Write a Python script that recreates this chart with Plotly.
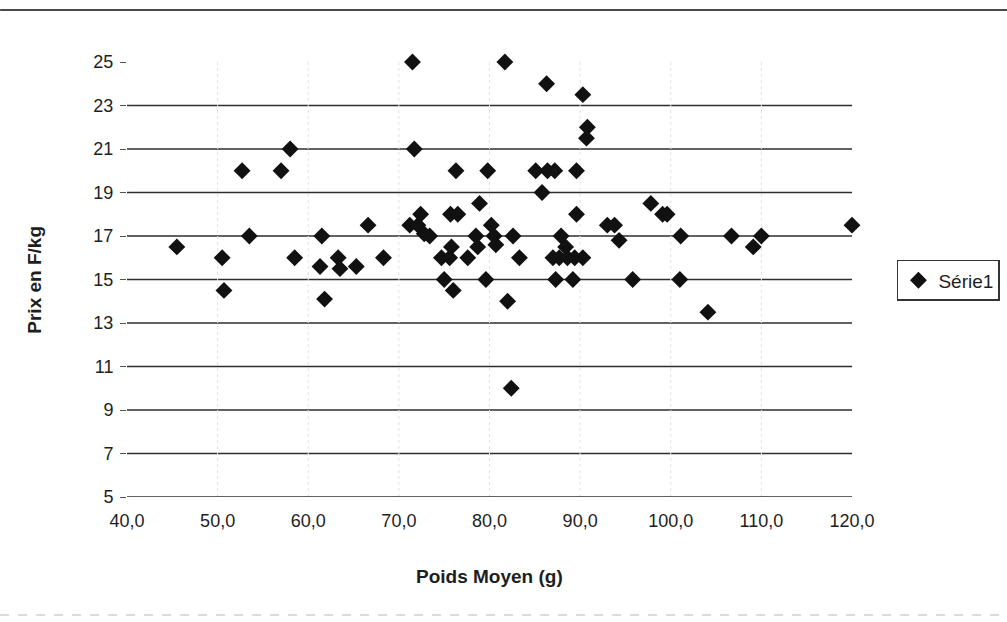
import plotly.graph_objects as go

# Poids moyen (g) et prix (F/kg) relevés
poids = [45.5, 50.5, 50.7, 52.7, 53.5, 57.0, 58.0, 58.5, 61.5, 61.3, 61.8, 63.3, 63.5,
         65.3, 66.6, 68.3, 71.5, 71.7, 71.2, 72.1, 72.4, 72.8, 73.4, 74.7, 75.6, 75.8,
         75.7, 76.5, 76.3, 77.6, 75.0, 76.0, 78.5, 78.7, 78.9, 79.8, 79.6, 80.2, 80.5,
         80.7, 81.7, 82.6, 83.3, 82.0, 82.4, 85.1, 86.4, 87.2, 85.8, 86.3, 87.9, 88.4,
         87.0, 87.7, 88.6, 89.4, 90.3, 87.3, 89.2, 89.6, 89.6, 90.3, 90.8, 90.7, 93.0,
         93.8, 94.3, 95.8, 97.8, 99.1, 99.6, 101.1, 101.0, 104.1, 106.7, 109.1, 110.0,
         120.0]
prix = [16.5, 16.0, 14.5, 20.0, 17.0, 20.0, 21.0, 16.0, 17.0, 15.6, 14.1, 16.0, 15.5,
        15.6, 17.5, 16.0, 25.0, 21.0, 17.5, 17.5, 18.0, 17.1, 17.0, 16.0, 16.0, 16.5,
        18.0, 18.0, 20.0, 16.0, 15.0, 14.5, 17.0, 16.5, 18.5, 20.0, 15.0, 17.5, 17.0,
        16.6, 25.0, 17.0, 16.0, 14.0, 10.0, 20.0, 20.0, 20.0, 19.0, 24.0, 17.0, 16.5,
        16.0, 16.0, 16.0, 16.0, 16.0, 15.0, 15.0, 20.0, 18.0, 23.5, 22.0, 21.5, 17.5,
        17.5, 16.8, 15.0, 18.5, 18.0, 18.0, 17.0, 15.0, 13.5, 17.0, 16.5, 17.0, 17.5]

x_ticks = [40, 50, 60, 70, 80, 90, 100, 110, 120]
x_tick_labels = ["40,0", "50,0", "60,0", "70,0", "80,0", "90,0", "100,0", "110,0", "120,0"]
y_ticks = [5, 7, 9, 11, 13, 15, 17, 19, 21, 23, 25]
y_grid = [7, 9, 11, 13, 15, 17, 19, 21, 23]

FONT = "Arial, Liberation Sans, sans-serif"
INK = "#1e1e1e"
GRID = "#2e2e2e"

fig = go.Figure()
fig.add_trace(go.Scatter(
    x=poids, y=prix, mode="markers", name="Série1",
    marker=dict(symbol="diamond", size=13, color="#111111", line=dict(width=0)),
    cliponaxis=False,
))

shapes = []
# horizontal gridlines
for v in y_grid:
    shapes.append(dict(type="line", xref="x", yref="y", x0=40, x1=120, y0=v, y1=v,
                       line=dict(color=GRID, width=1.5), layer="below"))
# faint vertical guides
for v in x_ticks[1:-1]:
    shapes.append(dict(type="line", xref="x", yref="y", x0=v, x1=v, y0=5, y1=25.6,
                       line=dict(color="#e4e4e4", width=1, dash="dot"), layer="below"))
# x axis line
shapes.append(dict(type="line", xref="x", yref="y", x0=40, x1=120, y0=5, y1=5,
                   line=dict(color=GRID, width=1.5)))
# chart area borders (top solid, bottom faint dashed)
shapes.append(dict(type="line", xref="paper", yref="paper", x0=-0.175, x1=1.22,
                   y0=1.1195, y1=1.1195, line=dict(color="#4a4a4a", width=2)))
shapes.append(dict(type="line", xref="paper", yref="paper", x0=-0.175, x1=1.22,
                   y0=-0.2713, y1=-0.2713, line=dict(color="#d0d0d0", width=1.5, dash="dash")))

fig.update_layout(
    width=1007, height=622,
    margin=dict(l=127, r=155, t=62, b=125, autoexpand=False),
    paper_bgcolor="white", plot_bgcolor="white",
    font=dict(family=FONT, size=18, color=INK),
    shapes=shapes,
    showlegend=True,
    legend=dict(x=1.062, y=0.545, xanchor="left", yanchor="top",
                bordercolor="#333333", borderwidth=1.5, bgcolor="white",
                font=dict(family=FONT, size=19, color=INK),
                itemwidth=30, tracegroupgap=0),
    xaxis=dict(range=[40, 120], tickvals=x_ticks, ticktext=x_tick_labels,
               showgrid=False, zeroline=False, showline=False,
               ticks="", ticklabelstandoff=11,
               tickfont=dict(family=FONT, size=18, color=INK)),
    yaxis=dict(range=[5, 25], tickvals=y_ticks, ticktext=[str(v) for v in y_ticks],
               showgrid=False, zeroline=False, showline=False,
               ticks="outside", ticklen=6, tickcolor="#555555", tickwidth=1,
               ticklabelstandoff=3,
               tickfont=dict(family=FONT, size=18, color=INK)),
    annotations=[
        dict(text="<b>Poids Moyen (g)</b>", xref="paper", yref="paper", x=0.5, y=-0.182,
             xanchor="center", yanchor="middle", showarrow=False,
             font=dict(family=FONT, size=19, color=INK)),
        dict(text="<b>Prix en F/kg</b>", xref="paper", yref="paper", x=-0.128, y=0.5,
             xanchor="center", yanchor="middle", textangle=-90, showarrow=False,
             font=dict(family=FONT, size=19, color=INK)),
    ],
)

fig.write_html("out.html")
